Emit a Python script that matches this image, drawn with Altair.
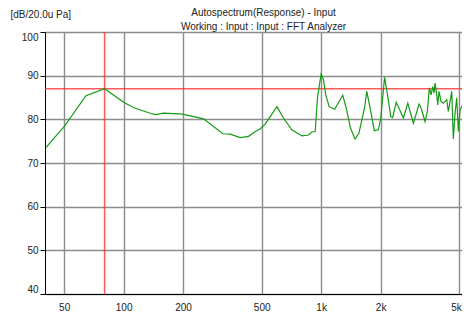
import altair as alt
import pandas as pd

# Spectrum curve (frequency in Hz, level in dB re 20 uPa)
freq_hz = [40.5, 50.1, 64.5, 80.1, 100, 113.3, 136.5, 144.7, 159.4, 198.8, 254, 318,
           346.6, 389, 429, 464, 491, 521, 597, 645, 711, 799, 863, 897, 933, 958,
           1000, 1027, 1055, 1098, 1170, 1287, 1339, 1408, 1484, 1553, 1658, 1703,
           1769, 1860, 1950, 2004, 2095, 2165, 2252, 2300, 2400, 2609, 2746, 2930,
           3131, 3205, 3357, 3449, 3531, 3601, 3673, 3729, 3773, 3848, 3893, 3953,
           4046, 4156, 4323, 4405, 4493, 4583, 4669, 4763, 4858, 4950, 5049, 5150,
           5289, 5395, 5521, 5670]
level_db = [73.6, 78.4, 85.4, 87.0, 83.9, 82.6, 81.4, 81.1, 81.4, 81.2, 80.1, 76.7,
            76.6, 75.8, 76.1, 77.2, 77.8, 78.9, 82.9, 80.3, 77.6, 76.2, 76.4, 77.1, 77.2, 84.9,
            90.4, 89.1, 85.6, 82.9, 82.3, 85.5, 82.6, 78.0, 75.5, 76.8, 82.6, 86.4,
            82.6, 77.4, 77.6, 80.3, 89.6, 85.8, 80.6, 80.4, 83.9, 80.3, 83.7, 79.1,
            83.5, 82.6, 79.5, 81.8, 87.2, 85.6, 87.5, 86.0, 88.3, 85.6, 83.3, 86.4,
            84.1, 83.7, 84.5, 81.8, 84.1, 86.4, 75.5, 81.4, 84.9, 77.2, 82.2, 82.9,
            84.1, 80.6, 81.4, 79.1]

# Cursor position
cursor_freq = [80.1]
cursor_db = [87.0]

x_ticks = [50, 100, 200, 500, 1000, 2000, 5000]
y_ticks = [40, 50, 60, 70, 80, 90, 100]

df = pd.DataFrame({"f": freq_hz, "db": level_db})
cur_v = pd.DataFrame({"f": cursor_freq})
cur_h = pd.DataFrame({"db": cursor_db})

FONT = "Liberation Sans"
GRID = "#8c8c8c"

xscale = alt.Scale(type="log", domain=[40, 5670], nice=False)
yscale = alt.Scale(domain=[40, 100], nice=False, zero=False)

xaxis = alt.Axis(values=x_ticks, labelExpr="datum.value >= 1000 ? (datum.value/1000) + 'k' : datum.value",
                 labelAlign={"condition": {"test": "datum.value == 5000", "value": "right"}, "value": "center"},
                 labelOffset={"condition": {"test": "datum.value == 5000", "value": 2}, "value": 0},
                 title="[Hz]", titleX=218, titleY=19, titleBaseline="top", titleFontWeight="normal",
                 titleFont=FONT, titleFontSize=10, titleColor="#222",
                 grid=True, gridColor=GRID, gridWidth=1.4, ticks=False, labelPadding=8,
                 domainColor="#000", labelFont=FONT, labelFontSize=10, labelColor="#222",
                 labelFlush=False)
yaxis = alt.Axis(values=y_ticks, title="[dB/20.0u Pa]", titleAngle=0, titleX=-35, titleY=-14.5,
                 titleAlign="left", titleBaseline="alphabetic", titleFontWeight="normal",
                 titleFont=FONT, titleFontSize=10, titleColor="#222",
                 grid=True, gridColor=GRID, gridWidth=1.4, tickSize=5, tickColor="#000",
                 labelPadding=2, domainColor="#000", labelFont=FONT, labelFontSize=10,
                 labelColor="#222", labelFlush=True)

line = alt.Chart(df).mark_line(color="#159a15", strokeWidth=1.2, clip=True).encode(
    x=alt.X("f:Q", scale=xscale, axis=xaxis),
    y=alt.Y("db:Q", scale=yscale, axis=yaxis),
)
vrule = alt.Chart(cur_v).mark_rule(color="#ff3030", strokeWidth=1.5, opacity=0.8).encode(
    x=alt.X("f:Q", scale=xscale))
hrule = alt.Chart(cur_h).mark_rule(color="#ff3030", strokeWidth=1.5, opacity=0.8).encode(
    y=alt.Y("db:Q", scale=yscale))

chart = alt.layer(vrule, hrule, line).properties(
    width=425, height=262,
    autosize=alt.AutoSizeParams(type="none"),
    padding={"left": 37, "top": 24, "right": -8, "bottom": 18},
    title=alt.TitleParams(text="Autospectrum(Response) - Input",
                          subtitle="Working : Input : Input : FFT Analyzer",
                          font=FONT, fontSize=10, fontWeight="normal", color="#222",
                          subtitleFont=FONT, subtitleFontSize=10, subtitleColor="#222",
                          subtitlePadding=4, anchor="middle", frame="group", dx=6, dy=26.5, offset=4),
).configure_view(fill="#f4f4f4", stroke=None).configure(background="white")

chart.save("out.html", embed_options={"renderer": "svg", "actions": False})
